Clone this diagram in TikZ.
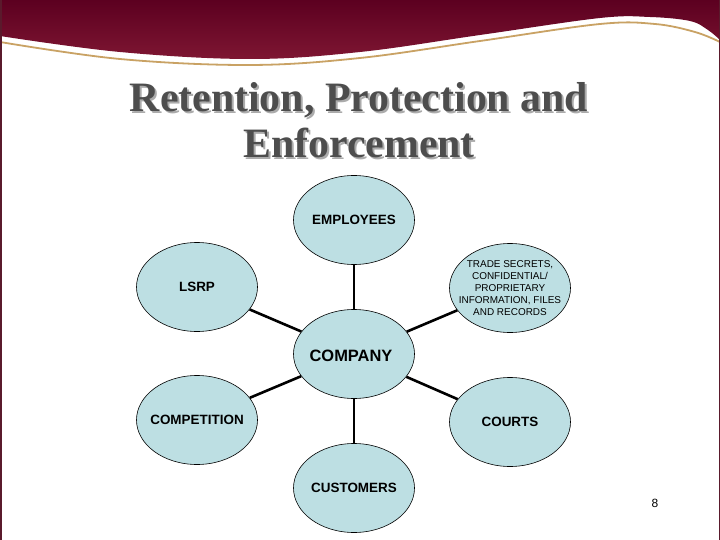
\documentclass[tikz,border=0pt]{standalone}
\usepackage{fontspec}
\setmainfont{Liberation Sans}
\newfontfamily\titlefont{Liberation Serif}
\usetikzlibrary{shapes.geometric}
\definecolor{maroonA}{HTML}{5C0020}
\definecolor{maroonB}{HTML}{7E1632}
\definecolor{goldline}{HTML}{C9A264}
\definecolor{bubble}{HTML}{BDDFE3}
\definecolor{titlegray}{HTML}{4D4D4D}
\definecolor{shadowgray}{HTML}{ABABAB}
\definecolor{edgecol}{HTML}{5A1A2C}
\begin{document}
\begin{tikzpicture}[x=1bp,y=-1bp,
  bubblenode/.style={ellipse, draw=black, line width=0.6bp, fill=bubble,
    minimum width=121bp, minimum height=89bp, inner sep=0pt},
  bubbletext/.style={align=center, inner sep=0pt, font=\bfseries\fontsize{13.5}{15}\selectfont},
  link/.style={line width=2.6bp, black},
  titletext/.style={anchor=base, font=\titlefont\bfseries\fontsize{42}{46}\selectfont}]
\useasboundingbox (0,0) rectangle (720,540);
\fill[white] (0,0) rectangle (720,540);
% header band
\shade[top color=maroonA, bottom color=maroonB]
  (0,0) -- (720,0) -- plot[smooth, tension=0.6] coordinates
  {(720,40) (708,30) (690,21) (650,17) (600,18) (480,35) (360,52) (250,59) (120,52) (0,36)} -- cycle;
\draw[goldline, line width=1.8bp] plot[smooth, tension=0.6] coordinates
  {(0,42) (120,59) (250,65) (360,58) (480,41) (600,24) (655,24) (695,32) (720,42)};
% side edges
\draw[edgecol, line width=1.5bp] (0.75,0) -- (0.75,540);
\draw[edgecol, line width=1.5bp] (719.25,0) -- (719.25,540);
% title
\node[titletext, text=shadowgray] (t1s) at (361,114) {Retention, Protection and};
\node[titletext, text=titlegray] (t1) at (359,112) {Retention, Protection and};
\node[titletext, text=shadowgray] (t2s) at (361,160) {Enforcement};
\node[titletext, text=titlegray] (t2) at (359,158) {Enforcement};
% bubbles
\node[bubblenode] (emp) at (354,220) {};
\node[bubblenode] (trade) at (510,288) {};
\node[bubblenode] (lsrp) at (197,287) {};
\node[bubblenode] (comp) at (354,354) {};
\node[bubblenode] (compet) at (197,420) {};
\node[bubblenode] (courts) at (510,422) {};
\node[bubblenode] (cust) at (354,488) {};
% labels
\node[bubbletext] (empL) at (emp.center) {EMPLOYEES};
\node[bubbletext, font=\fontsize{10}{12}\selectfont] (tradeL) at (trade.center)
  {TRADE SECRETS,\\CONFIDENTIAL/\\PROPRIETARY\\INFORMATION, FILES\\AND RECORDS};
\node[bubbletext] (lsrpL) at (lsrp.center) {LSRP};
\node[bubbletext, font=\bfseries\fontsize{16.5}{18}\selectfont] (compL) at ([xshift=-3bp,yshift=-2bp]comp.center) {COMPANY};
\node[bubbletext] (competL) at (compet.center) {COMPETITION};
\node[bubbletext] (courtsL) at (courts.center) {COURTS};
\node[bubbletext] (custL) at (cust.center) {CUSTOMERS};
% links
\draw[link] (emp) -- (comp);
\draw[link] (trade) -- (comp);
\draw[link] (lsrp) -- (comp);
\draw[link] (compet) -- (comp);
\draw[link] (courts) -- (comp);
\draw[link] (cust) -- (comp);
% page number
\node[font=\fontsize{12}{14}\selectfont] (pg) at (655,503.5) {8};
\end{tikzpicture}
\end{document}
